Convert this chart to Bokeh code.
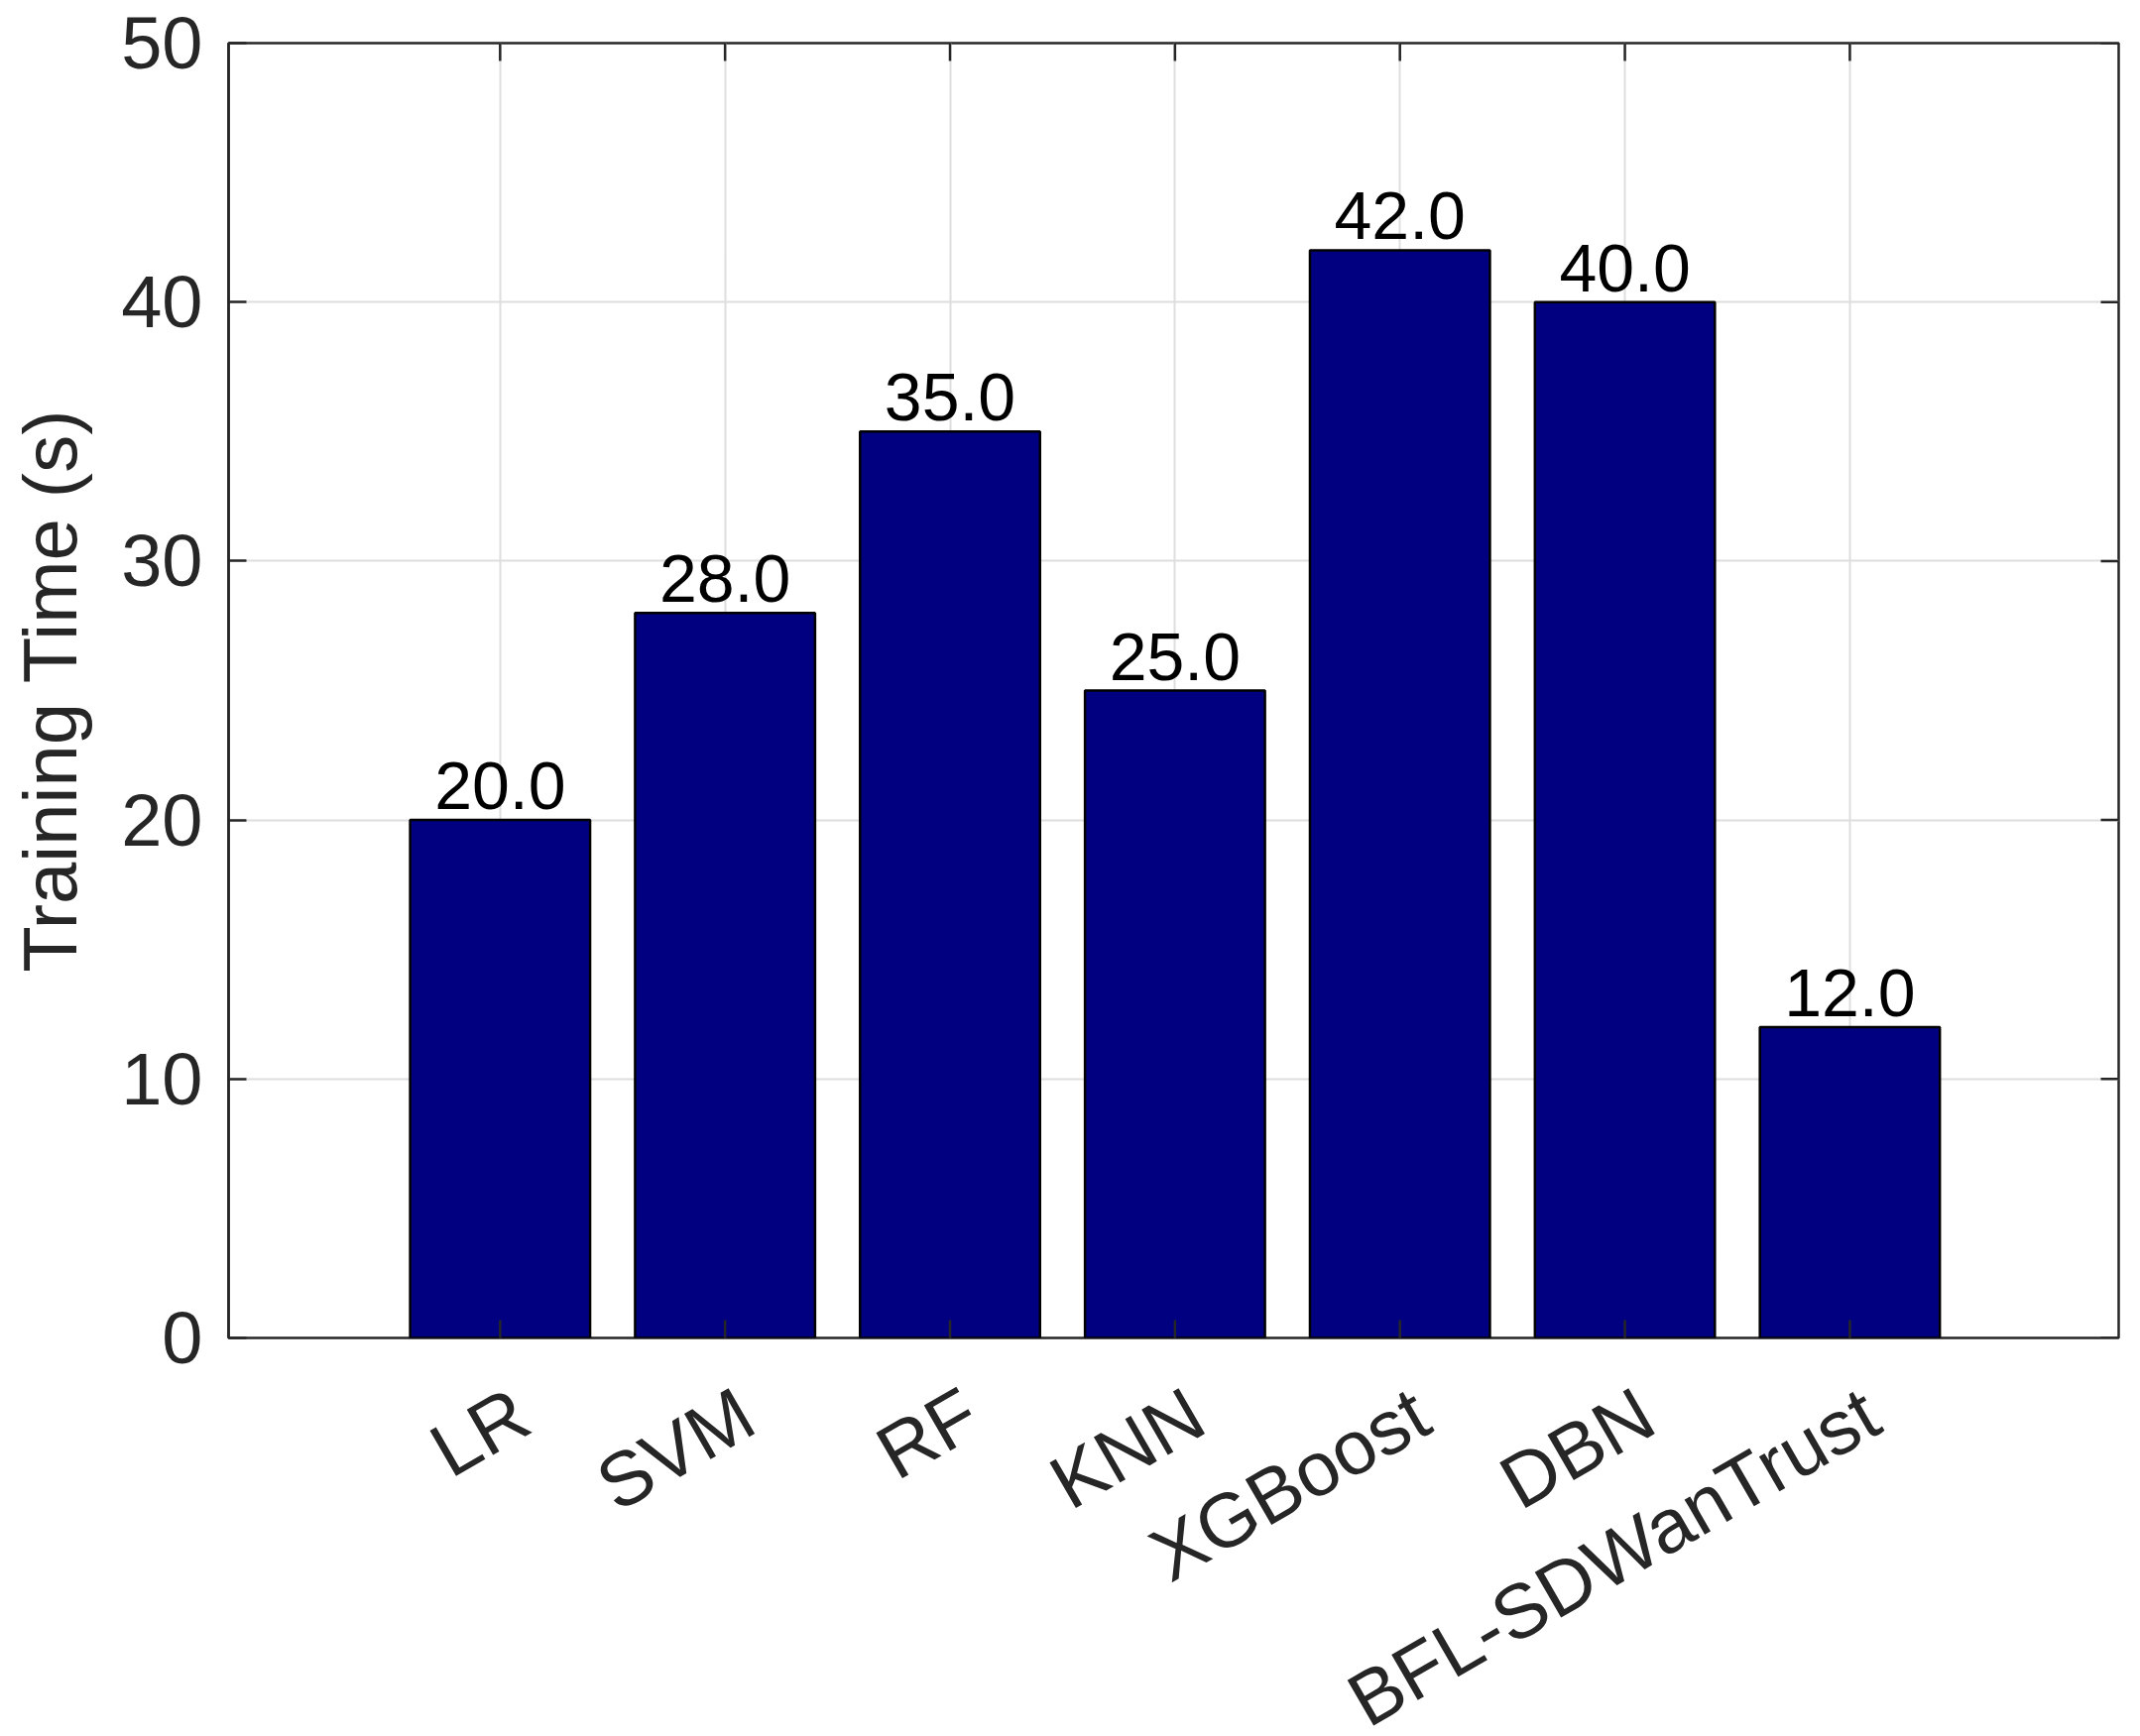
from bokeh.plotting import figure
from bokeh.models import ColumnDataSource, FixedTicker, Range1d, LabelSet
from bokeh.core.properties import value
from bokeh.embed import file_html
from bokeh.resources import INLINE
import math

categories = ["LR", "SVM", "RF", "KNN", "XGBoost", "DBN", "BFL-SDWanTrust"]
training_time = [20.0, 28.0, 35.0, 25.0, 42.0, 40.0, 12.0]
y_ticks = [0, 10, 20, 30, 40, 50]

xpos = [i + 1 for i in range(len(categories))]
src = ColumnDataSource(dict(x=xpos, top=training_time,
                            label=["{:.1f}".format(v) for v in training_time]))

FONT = "Liberation Sans"
AX = "#262626"
FRAME_W = 1906

x_range = Range1d(-0.207, 8.195)
y_range = Range1d(y_ticks[0], y_ticks[-1])

# a shifted copy of the x range, so the rotated labels end slightly right of each tick
shift = 22 * (x_range.end - x_range.start) / FRAME_W

p = figure(width=2142, height=1735, output_backend="svg", toolbar_location=None,
           x_range=x_range, y_range=y_range,
           frame_width=FRAME_W, frame_height=1306,
           min_border_left=230, min_border_top=43, min_border_right=6, min_border_bottom=386)
p.extra_x_ranges = {"lab": Range1d(x_range.start - shift, x_range.end - shift)}
p.background_fill_color = "white"
p.border_fill_color = "white"
p.outline_line_color = AX
p.outline_line_width = 2.5

tick_x = FixedTicker(ticks=xpos)
tick_y = FixedTicker(ticks=y_ticks)

p.xgrid.ticker = tick_x
p.ygrid.ticker = tick_y
p.xgrid.grid_line_color = "#dedede"
p.ygrid.grid_line_color = "#dedede"
p.xgrid.grid_line_width = 2
p.ygrid.grid_line_width = 2

p.vbar(x="x", top="top", bottom=0, width=0.8, source=src,
       fill_color="#000080", line_color="black", line_width=2.5)

# inward ticks on the box edges (MATLAB style)
p.scatter(x=xpos, y=[y_range.end] * len(xpos), marker="dash", angle=math.pi / 2,
          size=36, line_color=AX, line_width=2.5)
p.scatter(x=xpos, y=[y_range.start] * len(xpos), marker="dash", angle=math.pi / 2,
          size=36, line_color=AX, line_width=2.5)
p.scatter(x=[x_range.end] * len(y_ticks), y=y_ticks, marker="dash",
          size=36, line_color=AX, line_width=2.5)

labels = LabelSet(x="x", y="top", text="label", source=src, text_align="center",
                  text_baseline="alphabetic", y_offset=11, text_font=value(FONT),
                  text_font_size=value("68px"), text_color="black")
p.add_layout(labels)

xa = p.xaxis[0]
xa.x_range_name = "lab"
xa.ticker = tick_x
xa.major_label_overrides = {x: c for x, c in zip(xpos, categories)}
xa.major_label_orientation = math.pi / 6
xa.major_label_standoff = 64
xa.major_label_text_font = FONT
xa.major_label_text_font_size = "77px"
xa.major_label_text_color = AX
xa.axis_line_color = None
xa.major_tick_line_color = None
xa.minor_tick_line_color = None

p.yaxis.ticker = tick_y
p.yaxis.axis_label = "Training Time (s)"

ax = p.yaxis[0]
ax.axis_line_color = AX
ax.axis_line_width = 2.5
ax.major_tick_in = 18
ax.major_tick_out = 0
ax.minor_tick_line_color = None
ax.major_tick_line_color = AX
ax.major_tick_line_width = 2.5
ax.major_label_text_font = FONT
ax.major_label_text_font_size = "74px"
ax.major_label_text_color = AX
ax.axis_label_text_font = FONT
ax.axis_label_text_font_size = "76px"
ax.axis_label_text_font_style = "normal"
ax.axis_label_text_color = AX
ax.major_label_standoff = 26
ax.axis_label_standoff = 26

open("out.html", "w").write(file_html(p, INLINE))
